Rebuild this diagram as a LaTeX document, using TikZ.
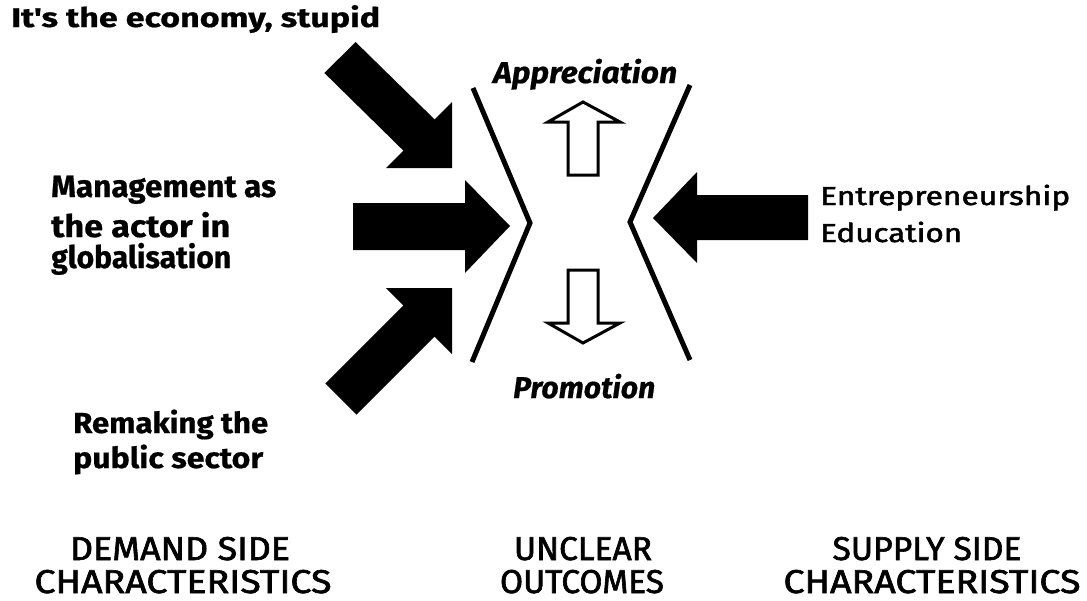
\documentclass[tikz,border=0pt]{standalone}
\usepackage{fontspec}
\defaultfontfeatures{}
\setmainfont{Fira Sans}[Ligatures=TeXOff,BoldFeatures={FakeBold=0.6},BoldItalicFeatures={FakeBold=0.6}]
\newfontfamily\medfont{Fira Sans}[Ligatures=TeXOff,FakeBold=1.8]
\usepackage{graphicx}
\newcommand\fw[2]{\resizebox{#1pt}{\height}{#2}}
\begin{document}
\begin{tikzpicture}[x=1pt,y=-1pt,
  blockarrow/.style={fill=black},
  hollowarrow/.style={draw=black,line width=3pt,fill=white,line join=miter},
  chevron/.style={draw=black,line width=5pt,line join=miter},
  lbl/.style={inner sep=0pt,anchor=base west},
  clbl/.style={inner sep=0pt,anchor=base},
  heavy/.style={font=\bfseries\fontsize{#1}{#1}\selectfont},
  light/.style={font=\medfont\fontsize{#1}{#1}\selectfont},
  outcome/.style={font=\bfseries\itshape\fontsize{#1}{#1}\selectfont}]
\useasboundingbox (0,0) rectangle (1087,600);
\fill[white] (0,0) rectangle (1087,600);

% demand side arrows
\fill[blockarrow] (355.6,42) -- (434.6,119.4) -- (452,102) -- (452,168) -- (386,168) -- (403.4,150.6) -- (324.4,73) -- cycle;
\fill[blockarrow] (353,203) -- (465,203) -- (465,180) -- (510,226) -- (465,273) -- (465,250) -- (353,250) -- cycle;
\fill[blockarrow] (325.4,383.4) -- (403.4,305.4) -- (386,288) -- (452,288) -- (452,354) -- (434.6,336.6) -- (356.6,414.6) -- cycle;
% supply side arrow
\fill[blockarrow] (808,195) -- (697,195) -- (697,172) -- (653,218) -- (697,263) -- (697,240) -- (808,240) -- cycle;

% chevrons
\draw[chevron] (473,88) -- (530,223) -- (472,362);
\draw[chevron] (690,85) -- (630,222) -- (690,360);

% outcome arrows
\draw[hollowarrow] (568,175) -- (568,122) -- (548,122) -- (583,102) -- (620,122) -- (598,122) -- (598,175) -- cycle;
\draw[hollowarrow] (568,270) -- (568,323) -- (548,323) -- (583,343) -- (620,323) -- (598,323) -- (598,270) -- cycle;

% labels
\node[lbl,heavy=27] (eco) at (11,27) {\fw{369}{It's the economy, stupid}};
\node[lbl,heavy=31] (mg1) at (51,197) {\fw{225}{Management as}};
\node[lbl,heavy=31] (mg2) at (51,237) {\fw{179}{the actor in}};
\node[lbl,heavy=31] (mg3) at (51,268) {\fw{180}{globalisation}};
\node[lbl,heavy=29] (rm1) at (73,433) {\fw{195}{Remaking the}};
\node[lbl,heavy=29] (rm2) at (73,468) {\fw{190}{public sector}};
\node[lbl,light=26] (en1) at (820,205) {\fw{250}{Entrepreneurship}};
\node[lbl,light=26] (en2) at (820,242) {\fw{142}{Education}};
\node[lbl,outcome=30] (app) at (493,83) {\fw{184}{Appreciation}};
\node[lbl,outcome=30] (pro) at (513,398) {\fw{142}{Promotion}};

\node[clbl,light=33] (d1) at (180,560) {\fw{220}{DEMAND SIDE}};
\node[clbl,light=33] (d2) at (183,593) {\fw{297}{CHARACTERISTICS}};
\node[clbl,light=33] (u1) at (583,560) {\fw{138}{UNCLEAR}};
\node[clbl,light=33] (u2) at (582,593) {\fw{164}{OUTCOMES}};
\node[clbl,light=33] (s1) at (927,560) {\fw{189}{SUPPLY SIDE}};
\node[clbl,light=33] (s2) at (932,593) {\fw{297}{CHARACTERISTICS}};
\end{tikzpicture}
\end{document}
